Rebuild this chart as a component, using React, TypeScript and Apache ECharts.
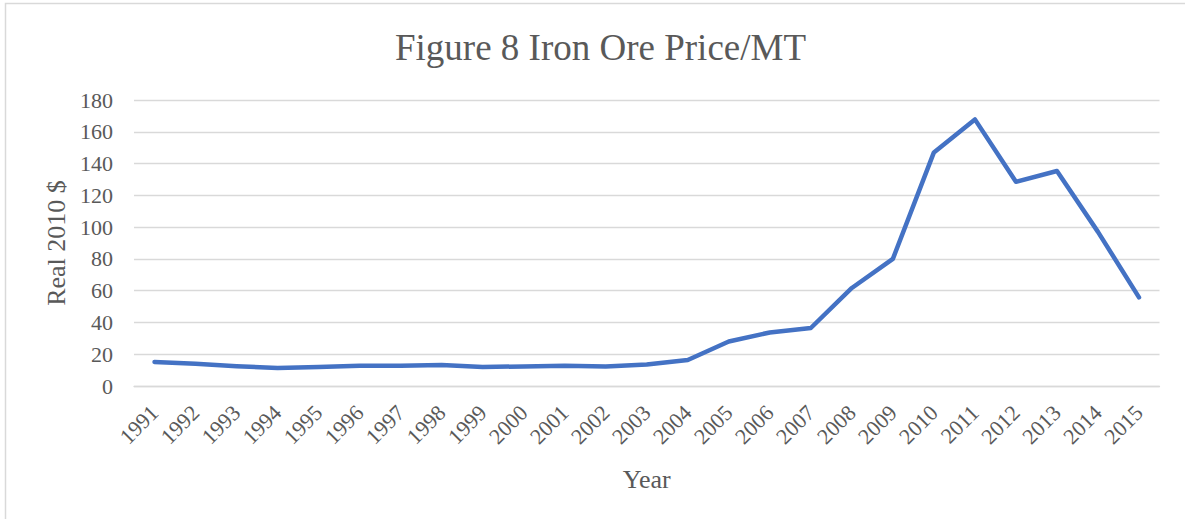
import React, { useEffect, useRef } from "react";
import * as echarts from "echarts";

const years = [
  "1991", "1992", "1993", "1994", "1995", "1996", "1997", "1998", "1999", "2000",
  "2001", "2002", "2003", "2004", "2005", "2006", "2007", "2008", "2009", "2010",
  "2011", "2012", "2013", "2014", "2015",
];
const prices = [
  15.1, 14.0, 12.5, 11.3, 12.0, 12.8, 12.8, 13.2, 12.0, 12.3,
  12.8, 12.3, 13.5, 16.4, 28.0, 33.7, 36.5, 61.7, 80.0, 147.0,
  167.8, 128.5, 135.3, 97.0, 55.8,
];
const titleText = "Figure 8 Iron Ore Price/MT";
const yName = "Real 2010 $";
const xName = "Year";

const FONT = "'Liberation Serif', 'Times New Roman', serif";
const GRAY = "#595959";

export default function App() {
  const ref = useRef<HTMLDivElement>(null);
  useEffect(() => {
    if (!ref.current) return;
    const chart = echarts.init(ref.current, undefined, { renderer: "svg" });
    chart.setOption({
      animation: false,
      backgroundColor: "#ffffff",
      textStyle: { fontFamily: FONT },
      title: {
        text: titleText,
        left: 390,
        top: 24,
        textStyle: { fontFamily: FONT, fontSize: 37, fontWeight: "normal", color: GRAY },
      },
      graphic: [
        {
          type: "rect",
          shape: { x: 5.5, y: 3.5, width: 1300, height: 600 },
          style: { fill: "none", stroke: "#d9d9d9", lineWidth: 1.5 },
          silent: true,
          z: -1,
        },
      ],
      grid: { left: 134, right: 25.5, top: 100, bottom: 133, containLabel: false },
      xAxis: {
        type: "category",
        data: years,
        boundaryGap: true,
        name: xName,
        nameLocation: "middle",
        nameGap: 80,
        nameTextStyle: { fontFamily: FONT, fontSize: 26, color: GRAY },
        axisLine: { show: true, lineStyle: { color: "#d9d9d9", width: 1.3 } },
        axisTick: { show: false },
        axisLabel: {
          rotate: 45,
          interval: 0,
          margin: 23,
          fontFamily: FONT,
          fontSize: 22,
          color: GRAY,
        },
      },
      yAxis: {
        type: "value",
        min: 0,
        max: 180,
        interval: 20,
        name: yName,
        nameLocation: "middle",
        nameGap: 65,
        nameTextStyle: { fontFamily: FONT, fontSize: 26, color: GRAY },
        axisLine: { show: false },
        axisTick: { show: false },
        axisLabel: { margin: 21, fontFamily: FONT, fontSize: 22, color: GRAY },
        splitLine: { lineStyle: { color: "#d9d9d9", width: 1.3 } },
      },
      series: [
        {
          type: "line",
          data: prices,
          symbol: "none",
          lineStyle: { color: "#4472C4", width: 4.5, cap: "round", join: "round" },
        },
      ],
    });
    return () => chart.dispose();
  }, []);
  return (
    <div
      ref={ref}
      style={{ position: "fixed", left: 0, top: 0, width: 1185, height: 519 }}
    />
  );
}
